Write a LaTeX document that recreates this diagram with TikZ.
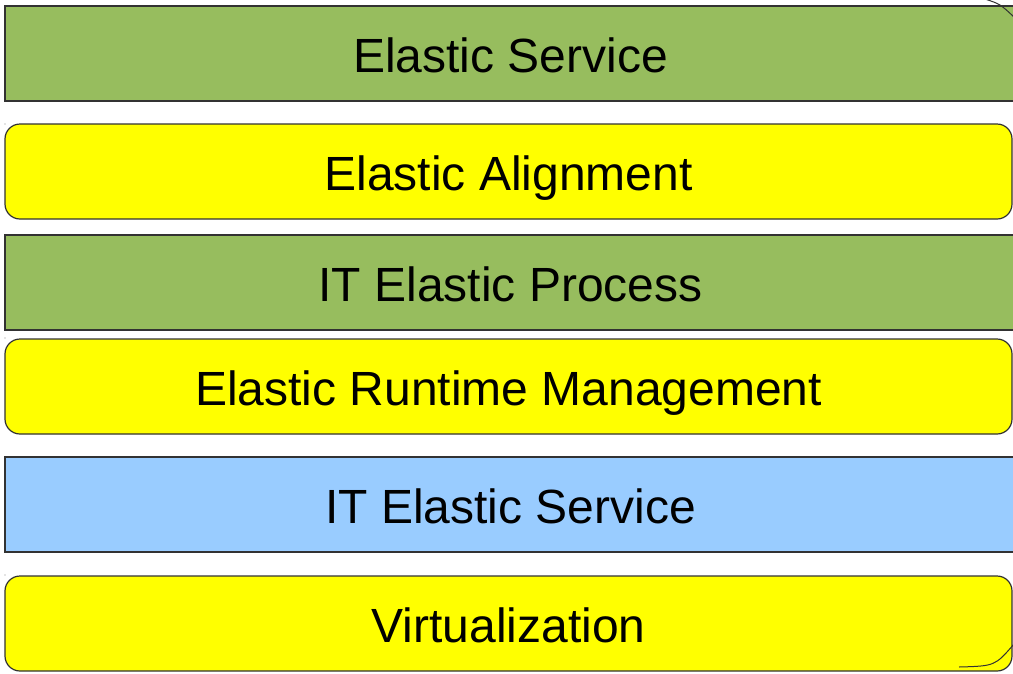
\documentclass[tikz,border=0pt]{standalone}
\usepackage{fontspec}
\setmainfont{Liberation Sans}
\definecolor{layergreen}{RGB}{151,189,94}
\definecolor{layeryellow}{RGB}{255,255,0}
\definecolor{layerblue}{RGB}{153,204,255}
\definecolor{edge}{RGB}{50,50,50}
\tikzset{
  layer/.style={draw=edge, line width=1.2pt, inner sep=0pt,
    minimum height=95pt, text height=37.5pt, text depth=0pt,
    font=\fontsize{48}{48}\selectfont},
  flatlayer/.style={layer, minimum width=1011pt},
  roundlayer/.style={layer, fill=layeryellow, rounded corners=15pt, minimum width=1007pt},
  speck/.style={fill=black!45, inner sep=0pt, minimum size=1.2pt, circle},
  rim/.style={draw=edge, line width=1pt}
}
\begin{document}
\begin{tikzpicture}[x=1pt,y=-1pt]
  \useasboundingbox (0,0) rectangle (1013,673);
  \clip (0,0) rectangle (1013,673);
  % stacked layers, top to bottom
  \node[flatlayer, fill=layergreen]  (service)   at (510.5,  53.5) {Elastic Service};
  \node[roundlayer]                  (alignment) at (508.5, 171.5) {Elastic Alignment};
  \node[flatlayer, fill=layergreen]  (process)   at (510.5, 282.5) {IT Elastic Process};
  \node[roundlayer]                  (runtime)   at (508.5, 386.5) {Elastic Runtime Management};
  \node[flatlayer, fill=layerblue]   (itservice) at (510.5, 504.5) {IT Elastic Service};
  \node[roundlayer]                  (virt)      at (508.5, 623.5) {Virtualization};
  % small marks at the upper left of the rounded layers
  \node[speck] (s1) at (5,124) {};
  \node[speck] (s2) at (5,338) {};
  \node[speck] (s3) at (5,575) {};
  % outline arcs at the right-hand corners
  \coordinate (ta) at (985,-1);
  \coordinate (tb) at (1014,17);
  \coordinate (ba) at (959,667);
  \coordinate (bb) at (1014,644);
  \draw[rim] (ta) .. controls (1000,4) .. (tb);
  \draw[rim] (ba) .. controls (995,666) .. (bb);
\end{tikzpicture}
\end{document}
